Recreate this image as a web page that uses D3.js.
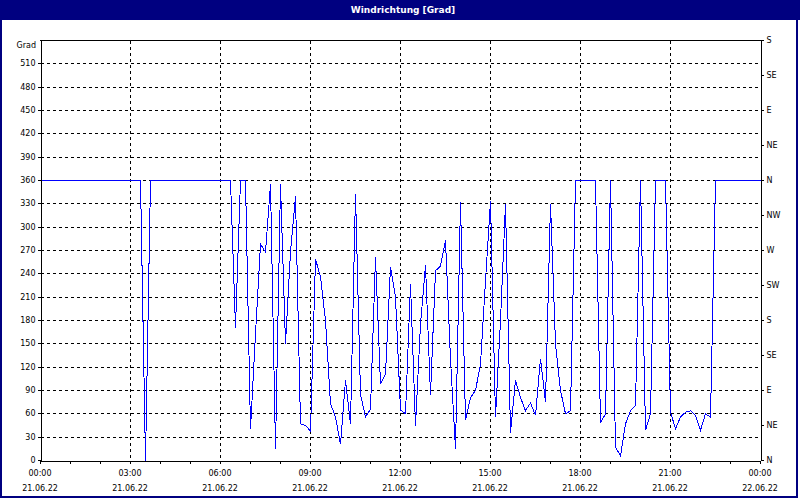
<!DOCTYPE html>
<html>
<head>
<meta charset="utf-8">
<script src="https://cdn.jsdelivr.net/npm/d3@7/dist/d3.min.js"></script>
<style>
html,body{margin:0;padding:0;background:#fff;}
svg{display:block;}
text{font-family:"DejaVu Sans",Verdana,sans-serif;}
</style>
</head>
<body>
<svg id="chart" width="800" height="500"></svg>
<script>
const title = "Windrichtung [Grad]";
const yUnit = "Grad";
const times = [
"00:00","00:10","00:20","00:30","00:40","00:50","01:00","01:10","01:20","01:30","01:40","01:50",
"02:00","02:10","02:20","02:30","02:40","02:50","03:00","03:10","03:20","03:30","03:40","03:50",
"04:00","04:10","04:20","04:30","04:40","04:50","05:00","05:10","05:20","05:30","05:40","05:50",
"06:00","06:10","06:20","06:30","06:40","06:50","07:00","07:10","07:20","07:30","07:40","07:50",
"08:00","08:10","08:20","08:30","08:40","08:50","09:00","09:10","09:20","09:30","09:40","09:50",
"10:00","10:10","10:20","10:30","10:40","10:50","11:00","11:10","11:20","11:30","11:40","11:50",
"12:00","12:10","12:20","12:30","12:40","12:50","13:00","13:10","13:20","13:30","13:40","13:50",
"14:00","14:10","14:20","14:30","14:40","14:50","15:00","15:10","15:20","15:30","15:40","15:50",
"16:00","16:10","16:20","16:30","16:40","16:50","17:00","17:10","17:20","17:30","17:40","17:50",
"18:00","18:10","18:20","18:30","18:40","18:50","19:00","19:10","19:20","19:30","19:40","19:50",
"20:00","20:10","20:20","20:30","20:40","20:50","21:00","21:10","21:20","21:30","21:40","21:50",
"22:00","22:10","22:20","22:30","22:40","22:50","23:00","23:10","23:20","23:30","23:40","23:50",
"24:00"];
const direction = [
360,360,360,360,360,360,360,360,360,360,360,360,
360,360,360,360,360,360,360,360,360,0,360,360,
360,360,360,360,360,360,360,360,360,360,360,360,
360,360,360,171,360,360,40,163,278,268,355,15,
355,150,268,340,47,45,38,259,236,180,73,56,
21,103,47,343,85,56,66,261,98,111,249,210,
65,60,227,45,175,251,84,244,250,283,130,15,
332,52,81,90,124,231,334,56,180,330,36,103,
81,64,74,58,131,75,330,150,90,60,64,360,
360,360,360,360,49,60,360,17,6,47,64,71,
360,39,60,360,360,360,62,41,56,62,64,58,
39,60,56,360,360,360,360,360,360,360,360,360,
360];
const xTickHours = [0,3,6,9,12,15,18,21,24];
const xTimeLabels = ["00:00","03:00","06:00","09:00","12:00","15:00","18:00","21:00","00:00"];
const xDateLabels = ["21.06.22","21.06.22","21.06.22","21.06.22","21.06.22","21.06.22","21.06.22","21.06.22","22.06.22"];
const yTicks = [0,30,60,90,120,150,180,210,240,270,300,330,360,390,420,450,480,510];
const compassValues = [0,45,90,135,180,225,270,315,360,405,450,495,540];
const compassLabels = ["N","NE","E","SE","S","SW","W","NW","N","NE","E","SE","S"];

const svg = d3.select("#chart");
const L = 40, R = 760, T = 40, B = 460;
const navy = "#000080";
const fs = 8;

svg.append("rect").attr("width",800).attr("height",500).attr("fill","#fff");
svg.append("rect").attr("x",0).attr("y",0).attr("width",800).attr("height",20).attr("fill",navy);
svg.append("rect").attr("x",1).attr("y",1).attr("width",796).attr("height",496)
  .attr("fill","none").attr("stroke",navy).attr("stroke-width",2);
svg.append("text").attr("x",403).attr("y",13).attr("text-anchor","middle")
  .attr("fill","#fff").attr("font-weight","bold").attr("font-size",9).text(title);

const parseH = s => { const p = s.split(":"); return +p[0] + (+p[1])/60; };
const x = d3.scaleLinear().domain([0,24]).range([L,R]);
const y = d3.scaleLinear().domain([0,540]).range([B,T]);

// grid
const g = svg.append("g");
g.selectAll("line.h").data(yTicks.filter(v=>v>0)).enter().append("line")
  .attr("x1",L+1).attr("x2",R).attr("y1",d=>Math.round(y(d))+0.5).attr("y2",d=>Math.round(y(d))+0.5)
  .attr("stroke","#000").attr("stroke-dasharray","3,3").attr("shape-rendering","crispEdges");
g.selectAll("line.v").data(xTickHours.filter(h=>h>0&&h<24)).enter().append("line")
  .attr("x1",d=>Math.round(x(d))+0.5).attr("x2",d=>Math.round(x(d))+0.5).attr("y1",T+1).attr("y2",B)
  .attr("stroke","#000").attr("stroke-dasharray","3,3").attr("shape-rendering","crispEdges");

// data line
const data = times.map((t,i)=>({h:parseH(t), v:direction[i]}));
svg.append("path").datum(data)
  .attr("fill","none").attr("stroke","#0000ff").attr("stroke-width",1)
  .attr("shape-rendering","crispEdges")
  .attr("d", d3.line().x(d=>x(d.h)+0.5).y(d=>y(d.v)+0.5));

// axes
const axL = svg.append("g").attr("transform",`translate(${L+0.5},0)`)
  .call(d3.axisLeft(y).tickValues(yTicks).tickSize(3).tickSizeOuter(0).tickPadding(2).tickFormat(d3.format("d")));
const axR = svg.append("g").attr("transform",`translate(${R+0.5},0)`)
  .call(d3.axisRight(y).tickValues(compassValues).tickSize(3).tickSizeOuter(0).tickPadding(3)
    .tickFormat((d,i)=>compassLabels[i]));
const axB = svg.append("g").attr("transform",`translate(0,${B+0.5})`)
  .call(d3.axisBottom(x).tickValues(d3.range(0,25)).tickSize(3).tickSizeOuter(0).tickFormat(""));
[axL,axR,axB].forEach(a=>{
  a.selectAll("text").attr("font-size",fs).attr("font-family","DejaVu Sans").attr("fill","#000");
  a.selectAll("path,line").attr("stroke","#000").attr("shape-rendering","crispEdges");
});
// top border
svg.append("line").attr("x1",L).attr("x2",R+1).attr("y1",T+0.5).attr("y2",T+0.5)
  .attr("stroke","#000").attr("shape-rendering","crispEdges");

// x labels
xTickHours.forEach((h,i)=>{
  svg.append("text").attr("x",x(h)).attr("y",476).attr("text-anchor","middle")
    .attr("font-size",fs).text(xTimeLabels[i]);
  svg.append("text").attr("x",x(h)).attr("y",491).attr("text-anchor","middle")
    .attr("font-size",fs).text(xDateLabels[i]);
});
svg.append("text").attr("x",36).attr("y",48).attr("text-anchor","end").attr("font-size",fs).text(yUnit);
</script>
</body>
</html>
